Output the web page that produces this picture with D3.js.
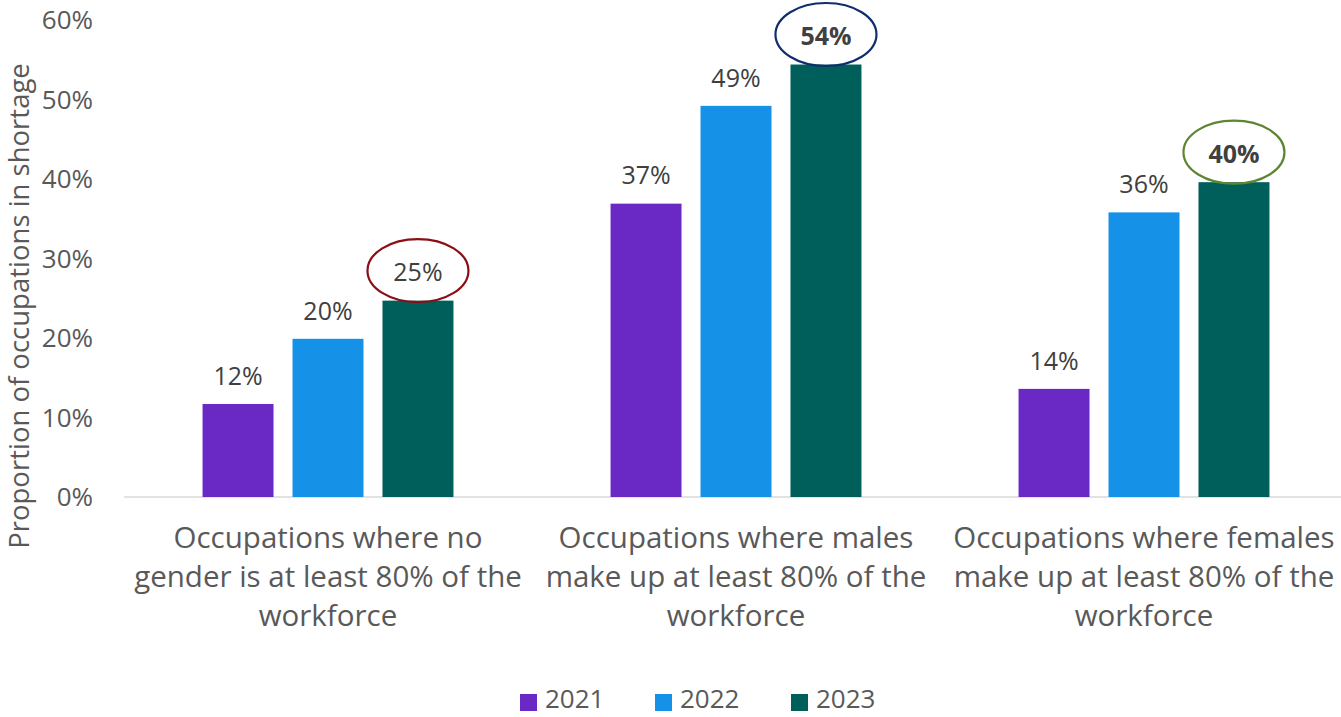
<!DOCTYPE html>
<html><head><meta charset="utf-8">
<script src="https://cdn.jsdelivr.net/npm/d3@7"></script>
<style>body{margin:0;background:#fff}</style>
</head><body>
<svg id="c" width="1341" height="717"></svg>
<script>
const categories = [
  ["Occupations where no", "gender is at least 80% of the", "workforce"],
  ["Occupations where males", "make up at least 80% of the", "workforce"],
  ["Occupations where females", "make up at least 80% of the", "workforce"]
];
const years = ["2021", "2022", "2023"];
const values2021 = [11.7, 36.9, 13.6];
const values2022 = [19.9, 49.2, 35.8];
const values2023 = [24.7, 54.4, 39.6];
const yTicks = [0, 10, 20, 30, 40, 50, 60];
const colors = ["#6A29C4", "#1591E8", "#005F5A"];
const highlightColors = ["#8B0E15", "#102E6E", "#5E8532"];
const highlightBold = [false, true, true];

const font = "'Open Sans', sans-serif";
const svg = d3.select("#c");
const series = [values2021, values2022, values2023];

const x0 = d3.scaleBand().domain(d3.range(3)).range([124, 1348]).paddingInner(0.385).paddingOuter(0.1925);
const x1 = d3.scaleBand().domain(d3.range(3)).range([0, x0.bandwidth()]).paddingInner(0.211).paddingOuter(0);
const y = d3.scaleLinear().domain([0, 60]).range([497, 20]);

// y tick labels
svg.append("g").selectAll("text").data(yTicks).join("text")
  .attr("x", 93).attr("y", d => y(d)).attr("dy", "0.35em")
  .attr("text-anchor", "end").attr("font-family", font).attr("font-size", 26)
  .attr("fill", "#595959").text(d => d + "%");

// axis line
svg.append("line").attr("x1", 124).attr("x2", 1341).attr("y1", y(0)).attr("y2", y(0))
  .attr("stroke", "#D9D9D9").attr("stroke-width", 1.5);

// y title
svg.append("text").attr("transform", "translate(29,306) rotate(-90)")
  .attr("text-anchor", "middle").attr("font-family", font).attr("font-size", 27.5)
  .attr("fill", "#595959").text("Proportion of occupations in shortage");

// bars
categories.forEach((cat, ci) => {
  series.forEach((vals, si) => {
    const v = vals[ci];
    const bx = x0(ci) + x1(si);
    svg.append("rect").attr("x", bx).attr("width", x1.bandwidth())
      .attr("y", y(v)).attr("height", y(0) - y(v)).attr("fill", colors[si]);
    const cx = bx + x1.bandwidth() / 2;
    const ty = y(v) - 28;
    const isHi = si === 2;
    if (isHi) {
      svg.append("ellipse").attr("cx", cx).attr("cy", ty - 2).attr("rx", 50.5).attr("ry", 31.5)
        .attr("fill", "none").attr("stroke", highlightColors[ci]).attr("stroke-width", 2.2);
    }
    svg.append("text").attr("x", cx).attr("y", ty).attr("dy", "0.35em")
      .attr("text-anchor", "middle").attr("font-family", font).attr("font-size", 25)
      .attr("font-weight", isHi && highlightBold[ci] ? "bold" : "normal")
      .attr("fill", "#404040")
      .text(Math.round(v) + "%");
  });
  // category labels
  const t = svg.append("text").attr("text-anchor", "middle").attr("font-family", font)
    .attr("font-size", 29.5).attr("fill", "#595959");
  cat.forEach((line, li) => {
    t.append("tspan").attr("x", x0(ci) + x0.bandwidth() / 2).attr("y", 538 + li * 39)
      .attr("dy", "0.35em").text(line);
  });
});

// legend
const legX = [520, 655, 791];
years.forEach((yr, i) => {
  svg.append("rect").attr("x", legX[i]).attr("y", 694).attr("width", 17).attr("height", 17).attr("fill", colors[i]);
  svg.append("text").attr("x", legX[i] + 25).attr("y", 708)
    .attr("font-family", font).attr("font-size", 26).attr("fill", "#595959").text(yr);
});
</script>
</body></html>
